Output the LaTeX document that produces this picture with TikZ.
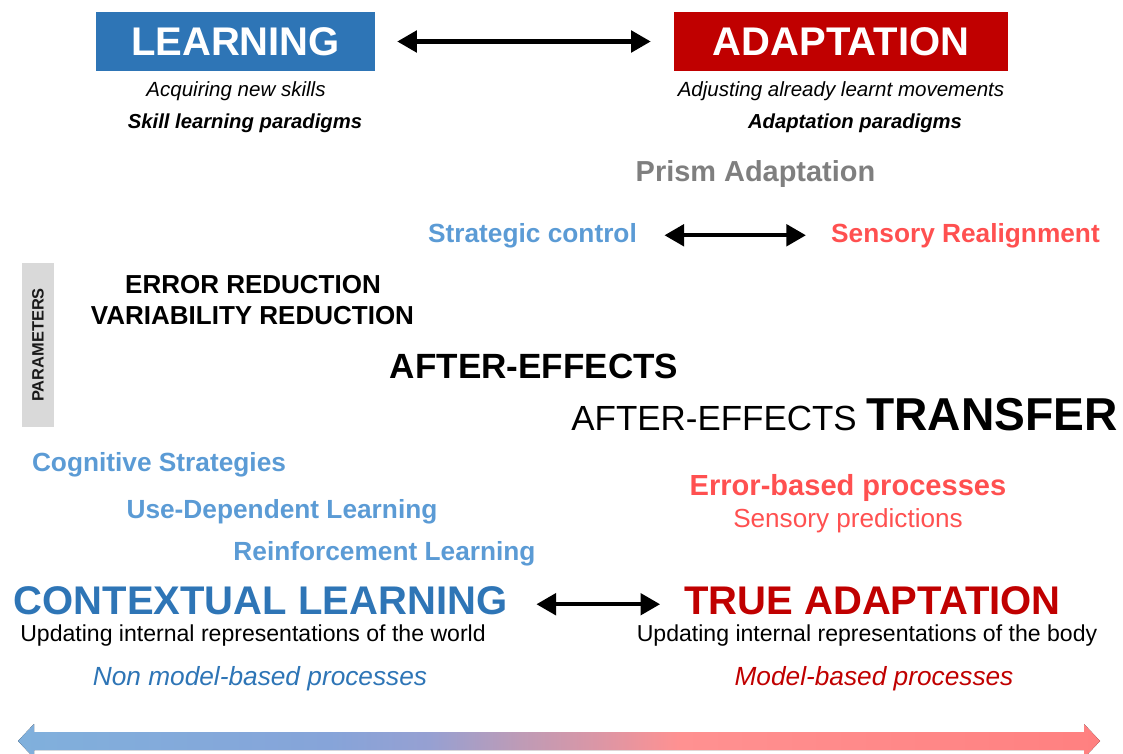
\documentclass[tikz,border=0pt]{standalone}
\usepackage{fontspec}
\setmainfont{Liberation Sans}
\usetikzlibrary{arrows.meta}
\definecolor{lblue}{HTML}{2E75B6}
\definecolor{mblue}{HTML}{5B9BD5}
\definecolor{dred}{HTML}{C00000}
\definecolor{lred}{HTML}{FF5050}
\definecolor{pgray}{HTML}{7F7F7F}
\definecolor{bargray}{HTML}{D9D9D9}
\definecolor{gA}{RGB}{128,176,220}
\definecolor{gB}{RGB}{134,164,217}
\definecolor{gC}{RGB}{150,160,210}
\definecolor{gD}{RGB}{190,155,182}
\definecolor{gE}{RGB}{220,150,165}
\definecolor{gF}{RGB}{255,145,145}
\definecolor{gG}{RGB}{255,128,128}
\pgfdeclarehorizontalshading{spectrum}{100bp}{color(0bp)=(gA); color(25bp)=(gA); color(39.4bp)=(gB); color(44bp)=(gC); color(48.2bp)=(gD); color(51.9bp)=(gE); color(55.6bp)=(gF); color(75bp)=(gG); color(100bp)=(gG)}
\newcommand{\fsz}[1]{\fontsize{#1pt}{#1pt}\selectfont}
\begin{document}
\begin{tikzpicture}[x=0.75pt,y=-0.75pt,
  txt/.style={inner sep=0pt, anchor=base},
  hbox/.style={inner sep=0pt, text=white, font={\fsz{30}\bfseries}, minimum height=44.25pt},
  dbl/.style={{Triangle[length=14.7pt,width=16pt]}-{Triangle[length=14.7pt,width=16pt]}, line width=3.1pt}]
\useasboundingbox (0,0) rectangle (1123,753);
\clip (0,0) rectangle (1123,753);

% top boxes
\node[hbox, fill=lblue, minimum width=209.25pt] (learn) at (235.5,41.5) {LEARNING};
\node[hbox, fill=dred, minimum width=250.5pt] (adapt) at (841,41.5) {ADAPTATION};
\draw[dbl, shorten <=16.5pt, shorten >=17.25pt] (learn.east) -- (adapt.west);

\node[txt, font={\fsz{15.4}\itshape}] (acq) at (236,96) {Acquiring new skills};
\node[txt, font={\fsz{15.2}\bfseries\itshape}] (slp) at (245,128) {Skill learning paradigms};
\node[txt, font={\fsz{15.4}\itshape}] (adj) at (841,96) {Adjusting already learnt movements};
\node[txt, font={\fsz{15.2}\bfseries\itshape}] (adp) at (855,128) {Adaptation paradigms};

\node[txt, text=pgray, font={\fsz{21.7}\bfseries}] (prism) at (755.5,181) {Prism Adaptation};
\node[txt, text=mblue, font={\fsz{19.7}\bfseries}] (strat) at (532.5,242) {Strategic control};
\node[txt, text=lred, font={\fsz{19.7}\bfseries}] (realign) at (965.5,242) {Sensory Realignment};
\draw[dbl, shorten <=20.5pt, shorten >=18.75pt] (strat.east) -- (realign.west);

% parameters
\node[fill=bargray, rotate=90, minimum width=123pt, minimum height=24pt, inner sep=0pt, font={\fsz{12.3}\bfseries}, text=black!90] (param) at (38,345) {PARAMETERS};
\node[txt, font={\fsz{19.5}\bfseries}] (err) at (253,293) {ERROR REDUCTION};
\node[txt, font={\fsz{19.5}\bfseries}] (var) at (252.5,324) {VARIABILITY REDUCTION};
\node[txt, font={\fsz{26.3}\bfseries}] (ae) at (534,378.5) {AFTER-EFFECTS};
\node[txt, font={\fsz{26.2}}] (aet) at (844.5,430) {AFTER-EFFECTS {\fsz{34.6}\bfseries TRANSFER}};

% processes
\node[txt, text=mblue, font={\fsz{19.7}\bfseries}] (cog) at (159,471) {Cognitive Strategies};
\node[txt, text=mblue, font={\fsz{19.7}\bfseries}] (udl) at (282,518) {Use-Dependent Learning};
\node[txt, text=mblue, font={\fsz{19.7}\bfseries}] (rl) at (384.5,560) {Reinforcement Learning};
\node[txt, text=lred, font={\fsz{21.8}\bfseries}] (ebp) at (848,495) {Error-based processes};
\node[txt, text=lred, font={\fsz{19.6}}] (sp) at (848,527) {Sensory predictions};

% bottom
\node[txt, text=lblue, font={\fsz{30}\bfseries}] (ctx) at (260.5,614) {CONTEXTUAL LEARNING};
\node[txt, text=dred, font={\fsz{30}\bfseries}] (true) at (872.5,614) {TRUE ADAPTATION};
\draw[dbl, shorten <=21.75pt, shorten >=18pt] ([yshift=-3pt]ctx.east) -- ([yshift=-3pt]true.west);
\node[txt, font={\fsz{17.3}}] (upw) at (253,641) {Updating internal representations of the world};
\node[txt, font={\fsz{17.3}}] (upb) at (867,641) {Updating internal representations of the body};
\node[txt, text=lblue, font={\fsz{19.7}\itshape}] (nmb) at (260,685) {Non model-based processes};
\node[txt, text=dred, font={\fsz{19.7}\itshape}] (mb) at (874,685) {Model-based processes};

% gradient arrow
\fill[shading=spectrum] (18,741) -- (34,724) -- (34,732) -- (1084,732) -- (1084,724) -- (1100,741)
  -- (1084,758) -- (1084,750) -- (34,750) -- (34,758) -- cycle;
\end{tikzpicture}
\end{document}
